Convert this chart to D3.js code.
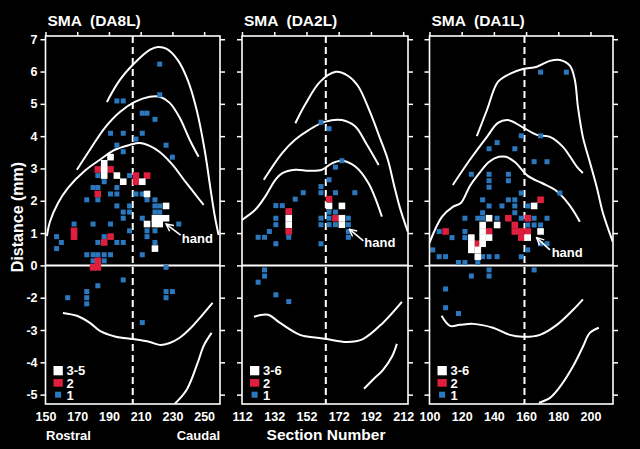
<!DOCTYPE html>
<html>
<head>
<meta charset="utf-8">
<style>
    body { margin: 0; background: #000; }
    svg { display: block; background: #000; }
    text { font-family: "Liberation Sans", Arial, sans-serif; font-weight: bold; fill: #fff; }
</style>
</head>
<body>
<svg width="640" height="449"></svg>
<script src="https://cdn.jsdelivr.net/npm/d3@7"></script>
<script>
// ---- data ----
var titles = ["SMA  (DA8L)", "SMA  (DA2L)", "SMA  (DA1L)"];
var legendLabels = [["3-5", "2", "1"], ["3-6", "2", "1"], ["3-6", "2", "1"]];
var xDomains = [[150, 260], [112, 215], [100, 214]];
var xTicks = [[150, 170, 190, 210, 230, 250], [112, 132, 152, 172, 192, 212], [100, 120, 140, 160, 180, 200]];
var midlines = [205, 164, 159];
var yDomain = [-4.29, 7.1];
var yTicks = [7, 6, 5, 4, 3, 2, 1, 0, -1, -2, -3, -4];
var yTickLabels = ["7", "6", "5", "4", "3", "2", "1", "0", "-2", "-3", "-4", "-5"];

// panel 1 (DA8L): [section, distance]
var p1Blue = [[222,6.23],[222,5.28],[195,5.09],[199,5.09],[211,4.71],[214,4.71],[219,4.52],
    [191,4.09],[199,4.09],[211,4.09],[207,3.91],[195,3.72],[226,3.72],[199,3.52],[230,3.35],
    [183,2.78],[203,2.78],[187,2.59],[180,2.41],[183,2.41],[195,2.41],
    [191,2.21],[195,2.21],[207,2.21],[211,2.21],[176,2.03],[183,2.03],[214,2.03],[219,2.03],
    [195,1.84],[203,1.84],[219,1.84],[222,1.84],[199,1.65],[203,1.65],[219,1.65],[222,1.65],
    [199,1.46],[211,1.46],[168,1.28],[180,1.28],[191,1.28],[234,1.28],
    [203,1.07],[214,1.07],[219,1.07],[157,0.89],[187,0.89],[214,0.89],
    [160,0.71],[183,0.71],[195,0.71],[199,0.71],[219,0.71],[157,0.52],
    [176,0.33],[180,0.33],[183,0.33],[187,0.33],[191,0.33],[211,0.33],[180,0.14],[187,0.14],
    [226,-0.06],[199,-0.45],[183,-0.63],[176,-0.81],[176,-1.0],[164,-1.0],[176,-1.19],
    [226,-0.81],[230,-0.81],[226,-1.0],[211,-1.77]];
var p1Red = [[168,1.07],[168,0.89],[187,0.71],[191,0.89],[183,2.21],[183,2.97],[191,2.97],
    [207,2.78],[207,2.59],[214,2.78],[183,0.14],[180,-0.06],[183,-0.06]];
var p1White = [[191,3.35],[187,3.16],[187,2.97],[187,2.78],[195,2.78],[199,2.59],[211,2.59],
    [214,2.21],[226,1.84],[219,1.46],[222,1.46],[226,1.46],[214,1.28],[219,1.28],[222,1.28],[219,0.52]];

// panel 2 (DA2L)
var p2Blue = [[161,4.43],[166,4.23],[174,3.24],[170,3.04],[166,2.65],[161,2.44],
    [150,2.25],[161,2.25],[170,2.25],[182,2.25],[145,2.05],[133,1.85],[137,1.85],
    [166,1.65],[170,1.65],[133,1.46],[161,1.46],[166,1.46],[178,1.46],
    [133,1.26],[161,1.26],[166,1.26],[170,1.26],[178,1.26],[129,1.05],[178,1.05],
    [122,0.87],[126,0.87],[141,0.87],[178,0.87],[133,0.67],[161,0.67],
    [126,-0.14],[126,-0.33],[122,-0.52],[133,-0.91],[141,-1.12]];
var p2Red = [[166,2.05],[141,1.67],[141,1.05],[170,1.46]];
var p2White = [[166,1.84],[174,1.84],[141,1.46],[141,1.26],[174,1.46],[174,1.26]];

// panel 3 (DA1L)
var p3Blue = [[169,5.98],[185,5.98],[157,4.01],[169,4.01],[142,3.8],[137,3.61],[153,3.61],
    [165,3.21],[173,3.21],[126,2.82],[137,2.82],[149,2.82],[137,2.62],[149,2.62],[137,2.42],
    [157,2.24],[181,2.24],[133,2.03],[149,2.03],[153,2.03],[137,1.84],[145,1.84],[153,1.84],[161,1.84],
    [133,1.63],[153,1.63],[122,1.46],[130,1.46],[133,1.46],[142,1.46],[157,1.46],[165,1.46],[173,1.46],
    [161,1.25],[165,1.25],[169,1.25],[106,1.05],[122,1.05],[114,0.86],[122,0.86],
    [169,0.67],[173,0.67],[102,0.48],[161,0.48],
    [106,0.27],[110,0.27],[133,0.27],[137,0.27],[142,0.27],[157,0.27],
    [118,0.09],[122,0.09],[130,0.09],[137,-0.14],[137,-0.33],[126,-0.33],[165,-0.14],
    [110,-0.73],[110,-1.31],[118,-1.49]];
var p3Red = [[169,2.03],[149,1.46],[161,1.46],[153,1.25],[110,1.05],[137,1.05],[153,1.05],
    [157,1.05],[161,1.05],[157,0.86],[130,0.67]];
var p3White = [[165,1.84],[137,1.46],[133,1.25],[142,1.25],[133,1.05],[126,0.86],[133,0.86],
    [137,0.86],[126,0.67],[133,0.67],[126,0.48],[130,0.48],[130,0.27],[169,1.05],[161,0.86]];

// contour outlines
var p1Curves = [
    [[188.7,5.06],[196.9,5.74],[206.3,6.27],[215.7,6.67],[220.8,6.76],[226.4,6.70],[233.3,6.36],[239.6,5.74],[245.3,4.81],[250.3,3.58],[254.1,2.34],[256.6,1.56],[259.1,0.94]],
    [[169.8,2.96],[178,3.58],[187.4,4.26],[196.9,4.75],[206.3,5.06],[215.7,5.22],[222,5.22],[228.3,5.03],[234.6,4.57],[240.9,3.89],[246.5,3.36]],
    [[150.9,0.91],[152.8,1.35],[157.9,1.93],[164.2,2.40],[174.8,2.93],[184.3,3.27],[193.7,3.58],[203.1,3.73],[209.4,3.79],[215.7,3.70],[222,3.51],[229.6,3.14],[237.7,2.62],[244.7,2.18],[249.7,1.87]],
    [[161,-1.47],[169.8,-1.56],[178,-1.78],[184.3,-2.03],[194.3,-2.21],[205,-2.28],[215.7,-2.37],[222,-2.46],[228.3,-2.40],[234.6,-2.24],[240.9,-1.97],[247.2,-1.63],[255.3,-1.16]],
    [[231.4,-4.29],[239,-3.85],[245.9,-3.02],[249.7,-2.49],[254.7,-2.09]]
];
var p2Curves = [
    [[145.1,4.40],[151.1,4.97],[160.4,5.68],[170.3,5.99],[177.7,5.87],[183.9,5.56],[191.4,4.75],[197.6,3.94],[202.5,3.27],[206.3,2.49],[210,1.78],[214.9,1.04]],
    [[125.5,2.65],[136.8,3.47],[144.9,3.89],[153.4,4.19],[163.7,4.45],[174,4.50],[182.3,4.30],[188.9,3.79],[196.8,3.11]],
    [[112,1.41],[120.2,1.72],[126.4,2.13],[132.7,2.65],[136.8,2.85],[145.1,2.96],[153.4,2.93],[161.6,2.96],[167.8,3.16],[174,3.24],[182.3,3.06],[190.5,2.54],[198.8,1.51]],
    [[119.4,-1.59],[128.1,-1.53],[135.6,-1.78],[148,-2.15],[158.5,-2.24],[164.7,-2.28],[177.1,-2.37],[187,-2.28],[199.4,-1.78],[211.2,-1.13]],
    [[187.7,-3.82],[193.2,-3.54],[199.4,-3.24],[205,-2.83],[208.1,-2.43]]
];
var p3Curves = [
    [[129.4,4.0],[135.7,4.81],[142.5,5.68],[149.9,5.93],[158,6.08],[166.7,6.15],[174.8,6.33],[181,6.36],[187.2,6.18],[190.3,5.74],[192.2,4.91],[195.3,3.97],[199.6,3.2],[204,2.4],[207.7,1.63],[213.9,0.73]],
    [[114.5,2.49],[125.1,3.27],[135.7,3.98],[142.5,4.41],[148.7,4.5],[157.4,4.29],[166.7,4.04],[174.8,3.98],[182.9,3.67],[191.6,3.05],[195.3,2.86]],
    [[100,0.7],[107.7,1.5],[114.5,1.81],[119.5,1.93],[125.1,2.46],[130.1,2.8],[136.9,3.2],[143.1,3.36],[147.5,3.36],[153,3.2],[161.1,2.77],[169.8,2.55],[177.9,2.34],[186,1.93],[193.4,1.35]],
    [[107.5,-1.56],[112.7,-1.87],[118.9,-1.84],[127,-1.81],[139.4,-1.93],[149.9,-2.15],[158,-2.21],[168.6,-2.15],[179.1,-1.84],[189.1,-1.38],[195.3,-1.05]],
    [[168,-4.25],[174.8,-4.1],[181,-3.76],[189.1,-3.13],[195.3,-2.52],[199.6,-2.09],[205.2,-1.93]]
];

// "hand" arrows: tip, tail, text anchor
var handTips = [[226.0,1.28], [178.6,1.12], [166.5,0.86]];
var handTails = [[235.2,0.94], [187.3,0.76], [174.8,0.48]];
var handText = [[235.9,0.69], [187.9,0.56], [175.9,0.27]];

// ---- layout ----
var svg = d3.select("svg");
var plotTop = 36, plotBottom = 404;
var panelX = [[45.5, 220], [242, 408], [429.5, 613]];
var blue = "#2b78be", red = "#de1f3e", white = "#ffffff";
var blues = [p1Blue, p2Blue, p3Blue],
    reds = [p1Red, p2Red, p3Red],
    whites = [p1White, p2White, p3White],
    curves = [p1Curves, p2Curves, p3Curves];

var y = d3.scaleLinear().domain(yDomain).range([plotBottom, plotTop]);

svg.append("defs").append("marker")
    .attr("id", "arrow")
    .attr("viewBox", "-1 -5 10 10")
    .attr("refX", 8).attr("refY", 0)
    .attr("markerWidth", 9).attr("markerHeight", 9)
    .attr("markerUnits", "userSpaceOnUse")
    .attr("orient", "auto")
    .append("path")
    .attr("d", "M0,-4L8,0L0,4")
    .attr("fill", "none").attr("stroke", "#fff").attr("stroke-width", 1.6);

function styleAxis(g) {
    g.select(".domain").remove();
    g.attr("color", "#fff")
        .attr("font-family", "Liberation Sans, Arial, sans-serif")
        .attr("font-weight", "bold")
        .attr("font-size", 12.5);
    g.selectAll(".tick line").attr("stroke-width", 1.5);
}

for (var i = 0; i < 3; i++) {
    var x = d3.scaleLinear().domain(xDomains[i]).range(panelX[i]);
    var left = panelX[i][0], right = panelX[i][1];
    var g = svg.append("g");

    g.append("clipPath").attr("id", "clip" + i)
        .append("rect").attr("x", left).attr("y", plotTop)
        .attr("width", right - left).attr("height", plotBottom - plotTop);

    var plot = g.append("g").attr("clip-path", "url(#clip" + i + ")");

    // zero line and midline
    plot.append("line")
        .attr("x1", left).attr("x2", right)
        .attr("y1", y(0)).attr("y2", y(0))
        .attr("stroke", "#fff").attr("stroke-width", 2);
    plot.append("line")
        .attr("x1", x(midlines[i])).attr("x2", x(midlines[i]))
        .attr("y1", plotTop).attr("y2", plotBottom)
        .attr("stroke", "#fff").attr("stroke-width", 2)
        .attr("stroke-dasharray", "7,4");

    // outlines
    var line = d3.line()
        .x(function(d) { return x(d[0]); })
        .y(function(d) { return y(d[1]); })
        .curve(d3.curveCatmullRom.alpha(0.5));
    plot.selectAll("path.outline").data(curves[i]).join("path")
        .attr("class", "outline")
        .attr("d", line)
        .attr("fill", "none").attr("stroke", "#fff").attr("stroke-width", 2);

    // squares
    var bs = 5, cs = 6.6;
    plot.selectAll("rect.b").data(blues[i]).join("rect")
        .attr("class", "b")
        .attr("x", function(d) { return x(d[0]) - bs / 2; })
        .attr("y", function(d) { return y(d[1]) - bs / 2; })
        .attr("width", bs).attr("height", bs).attr("fill", blue);
    plot.selectAll("rect.r").data(reds[i]).join("rect")
        .attr("class", "r")
        .attr("x", function(d) { return x(d[0]) - cs / 2; })
        .attr("y", function(d) { return y(d[1]) - cs / 2; })
        .attr("width", cs).attr("height", cs).attr("fill", red);
    plot.selectAll("rect.w").data(whites[i]).join("rect")
        .attr("class", "w")
        .attr("x", function(d) { return x(d[0]) - cs / 2; })
        .attr("y", function(d) { return y(d[1]) - cs / 2; })
        .attr("width", cs).attr("height", cs).attr("fill", white);

    // frame
    g.append("rect")
        .attr("x", left).attr("y", plotTop)
        .attr("width", right - left).attr("height", plotBottom - plotTop)
        .attr("fill", "none").attr("stroke", "#fff").attr("stroke-width", 1.6);

    // axes
    var yl = d3.axisLeft(y).tickValues(yTicks).tickSize(5).tickPadding(3)
        .tickFormat(i === 0 ? function(d, k) { return yTickLabels[k]; } : "");
    g.append("g").attr("transform", "translate(" + left + ",0)").call(yl).call(styleAxis);
    g.append("g").attr("transform", "translate(" + right + ",0)")
        .call(d3.axisRight(y).tickValues(yTicks).tickSize(5).tickFormat(""))
        .call(styleAxis);
    g.append("g").attr("transform", "translate(0," + plotTop + ")")
        .call(d3.axisTop(x).tickValues(xTicks[i]).tickSize(4).tickFormat(""))
        .call(styleAxis);
    g.append("g").attr("transform", "translate(0," + plotBottom + ")")
        .call(d3.axisBottom(x).tickValues(xTicks[i]).tickSize(0).tickPadding(8.6))
        .call(styleAxis);

    // title
    g.append("text")
        .attr("x", left + 2).attr("y", 25.5)
        .attr("font-size", 15.5)
        .style("white-space", "pre")
        .text(titles[i]);

    // hand annotation
    g.append("line")
        .attr("x1", x(handTails[i][0])).attr("y1", y(handTails[i][1]))
        .attr("x2", x(handTips[i][0])).attr("y2", y(handTips[i][1]))
        .attr("stroke", "#fff").attr("stroke-width", 1.6)
        .attr("marker-end", "url(#arrow)");
    g.append("text")
        .attr("x", x(handText[i][0])).attr("y", y(handText[i][1]))
        .attr("font-size", 13)
        .text("hand");

    // legend
    var lg = g.append("g");
    lg.append("rect").attr("x", left + 8).attr("y", 366).attr("width", 9.3).attr("height", 9.3).attr("fill", white);
    lg.append("rect").attr("x", left + 8).attr("y", 379).attr("width", 9.3).attr("height", 7.7).attr("fill", red);
    lg.append("rect").attr("x", left + 9.6).attr("y", 391.7).attr("width", 6).attr("height", 6).attr("fill", blue);
    lg.selectAll("text").data(legendLabels[i]).join("text")
        .attr("x", left + 21)
        .attr("y", function(d, k) { return [375.3, 387.5, 399.7][k]; })
        .attr("font-size", 13)
        .text(function(d) { return d; });
}

// axis titles
svg.append("text")
    .attr("transform", "translate(22.5,217) rotate(-90)")
    .attr("text-anchor", "middle")
    .attr("font-size", 16)
    .text("Distance (mm)");
svg.append("text")
    .attr("x", 326).attr("y", 440)
    .attr("text-anchor", "middle")
    .attr("font-size", 15.5)
    .text("Section Number");
svg.append("text")
    .attr("x", 46).attr("y", 440)
    .attr("font-size", 13)
    .text("Rostral");
svg.append("text")
    .attr("x", 220).attr("y", 440)
    .attr("text-anchor", "end")
    .attr("font-size", 13)
    .text("Caudal");
</script>
</body>
</html>
